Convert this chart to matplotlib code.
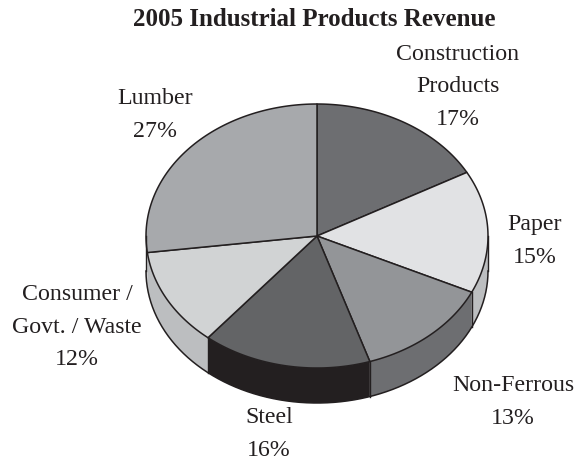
import numpy as np
import matplotlib
matplotlib.use('Agg')
import matplotlib.pyplot as plt
from matplotlib.patches import Polygon

# данные с картинки, по часовой стрелке от 12 часов
categories = ['Construction\nProducts', 'Paper', 'Non-Ferrous', 'Steel', 'Consumer /\nGovt. / Waste', 'Lumber']
shares = [17, 15, 13, 16, 12, 27]
top_colors = ['#6d6e71', '#e1e2e4', '#939598', '#636466', '#d1d3d4', '#a7a9ac']
# стенка Lumber почти не видна, в оригинале она того же цвета что и Consumer
side_colors = ['#6d6e71', '#bcbec0', '#6d6e71', '#231f20', '#bcbec0', '#bcbec0']
label_pos = [(458, 87), (535, 241), (513, 402), (269, 434), (77, 327), (155, 115)]

# геометрия "3d" пирога в пикселях
cx, cy = 317, 236
rx, ry = 171, 132
depth = 35
ink = '#231f20'

plt.rcParams['font.family'] = ['Liberation Serif', 'DejaVu Serif']

fig = plt.figure(figsize=(5.81, 4.61), dpi=100)
ax = fig.add_axes([0, 0, 1, 1])
ax.set_xlim(0, 581)
ax.set_ylim(461, 0)
ax.axis('off')


def rim(a0, a1, dy=0):
    t = np.radians(np.linspace(a0, a1, 80))
    return np.column_stack([cx + rx * np.sin(t), cy + dy - ry * np.cos(t)])


edges = np.cumsum([0] + shares) * 3.6

# боковая стенка, видна только нижняя половина
for i in range(len(shares)):
    a0 = max(edges[i], 90)
    a1 = min(edges[i + 1], 270)
    if a1 <= a0:
        continue
    pts = np.vstack([rim(a0, a1), rim(a0, a1, depth)[::-1]])
    ax.add_patch(Polygon(pts, closed=True, fc=side_colors[i], ec='none'))

# контур стенки: низ и вертикальные линии на стыках
low = rim(90, 270, depth)
ax.plot(low[:, 0], low[:, 1], color=ink, lw=1.1)
for a in [90, 270] + [e for e in edges[1:-1] if 90 < e < 262]:
    p = rim(a, a)[0]
    ax.plot([p[0], p[0]], [p[1], p[1] + depth], color=ink, lw=1.0)

# верхняя грань
for i in range(len(shares)):
    pts = np.vstack([[cx, cy], rim(edges[i], edges[i + 1])])
    ax.add_patch(Polygon(pts, closed=True, fc=top_colors[i], ec=ink, lw=1.1, joinstyle='round'))

for name, val, (x, y) in zip(categories, shares, label_pos):
    ax.text(x, y, f'{name}\n{val}%', ha='center', va='center', fontsize=17.2,
            color=ink, linespacing=1.72)

ax.text(314, 19, '2005 Industrial Products Revenue', ha='center', va='center',
        fontsize=18, fontweight='bold', color=ink)

fig.savefig('out.png', dpi=100)
